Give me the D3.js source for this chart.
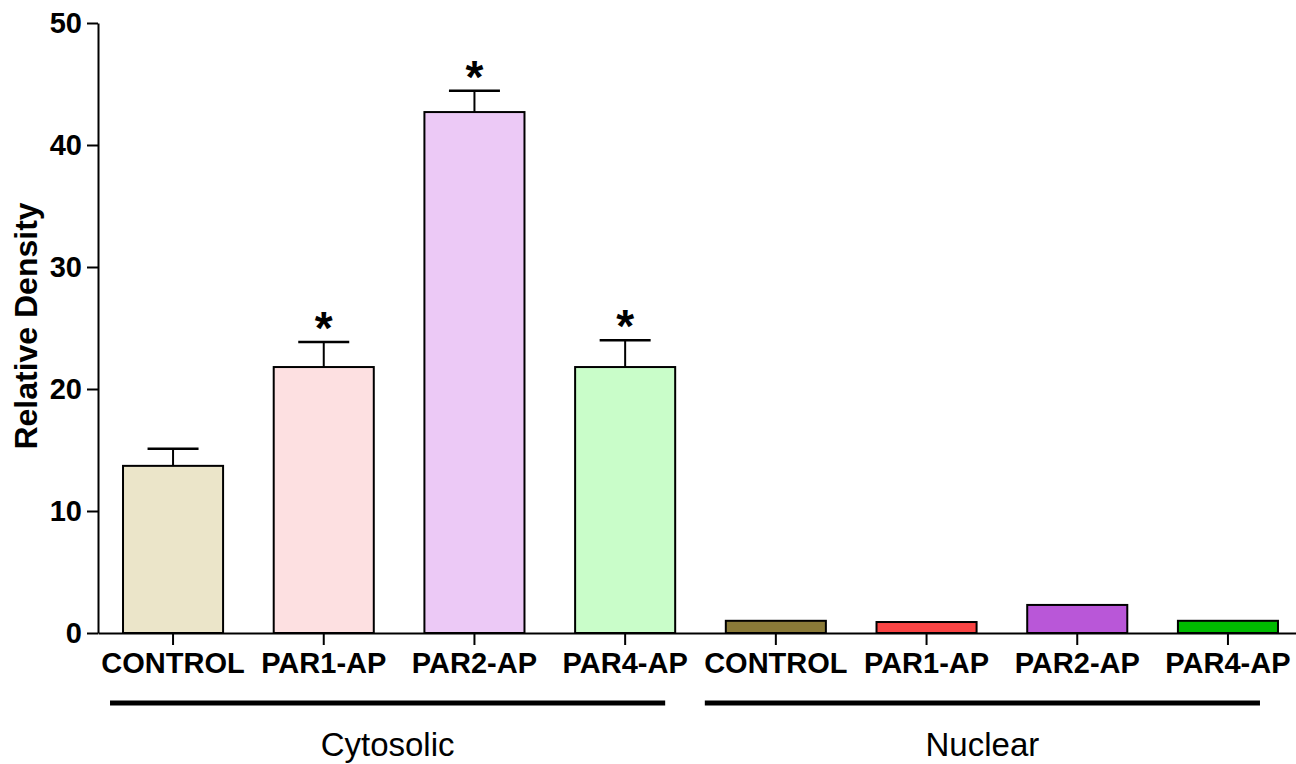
<!DOCTYPE html>
<html>
<head>
<meta charset="utf-8">
<script src="https://cdn.jsdelivr.net/npm/d3@7"></script>
<style>
  body { margin: 0; background: #fff; }
  text { font-family: "Liberation Sans", Arial, sans-serif; }
</style>
</head>
<body>
<div id="container"></div>
<script>
// values
let labels = ["CONTROL", "PAR1-AP", "PAR2-AP", "PAR4-AP", "CONTROL", "PAR1-AP", "PAR2-AP", "PAR4-AP"];
let groups = ["Cytosolic", "Cytosolic", "Cytosolic", "Cytosolic", "Nuclear", "Nuclear", "Nuclear", "Nuclear"];
let means = [13.7, 21.8, 42.7, 21.8, 1.0, 0.9, 2.3, 1.0];
let errors = [1.4, 2.05, 1.75, 2.2, 0, 0, 0, 0];
let stars = [false, true, true, true, false, false, false, false];
let colors = ["#ebe5c9", "#fde0e1", "#ecc9f6", "#c9fdc9", "#8a7a38", "#f94444", "#b957d8", "#00bc00"];
let yTicks = [0, 10, 20, 30, 40, 50];
let groupNames = ["Cytosolic", "Nuclear"];

let width = 1296, height = 764;
let ids = labels.map((d, i) => i);

let svg = d3.select("#container").append("svg")
  .attr("width", width)
  .attr("height", height);

let xScale = d3.scaleBand()
  .domain(ids)
  .range([98, 1303])
  .paddingInner(0.336)
  .paddingOuter(0.166);

let yScale = d3.scaleLinear().domain([0, 50]).range([633, 23]);

// y axis
let yAxis = d3.axisLeft(yScale)
  .tickValues(yTicks)
  .tickSize(11)
  .tickSizeOuter(0)
  .tickPadding(5);

let yAxisG = svg.append("g")
  .attr("transform", "translate(98,0)")
  .call(yAxis);
yAxisG.selectAll("path, line").attr("stroke", "#000").attr("stroke-width", 2);
yAxisG.selectAll("text")
  .attr("fill", "#000")
  .style("font-size", "29px")
  .style("font-weight", "bold");

// bars
svg.append("g")
  .selectAll("rect")
  .data(ids)
  .enter()
  .append("rect")
  .attr("x", (i) => xScale(i))
  .attr("y", (i) => yScale(means[i]))
  .attr("width", xScale.bandwidth())
  .attr("height", (i) => yScale(0) - yScale(means[i]))
  .attr("fill", (i) => colors[i])
  .attr("stroke", "#000")
  .attr("stroke-width", 2);

// error bars (upper only)
let errIds = ids.filter((i) => errors[i] > 0);
let errG = svg.append("g");
errG.selectAll("line.stem")
  .data(errIds)
  .enter()
  .append("line")
  .attr("class", "stem")
  .attr("x1", (i) => xScale(i) + xScale.bandwidth() / 2)
  .attr("x2", (i) => xScale(i) + xScale.bandwidth() / 2)
  .attr("y1", (i) => yScale(means[i]))
  .attr("y2", (i) => yScale(means[i] + errors[i]))
  .attr("stroke", "#000")
  .attr("stroke-width", 2);
errG.selectAll("line.cap")
  .data(errIds)
  .enter()
  .append("line")
  .attr("class", "cap")
  .attr("x1", (i) => xScale(i) + xScale.bandwidth() / 2 - 25.5)
  .attr("x2", (i) => xScale(i) + xScale.bandwidth() / 2 + 25.5)
  .attr("y1", (i) => yScale(means[i] + errors[i]))
  .attr("y2", (i) => yScale(means[i] + errors[i]))
  .attr("stroke", "#000")
  .attr("stroke-width", 2.5);

// significance stars
svg.append("g")
  .selectAll("text")
  .data(ids.filter((i) => stars[i]))
  .enter()
  .append("text")
  .attr("x", (i) => xScale(i) + xScale.bandwidth() / 2)
  .attr("y", (i) => yScale(means[i] + errors[i]) + 2)
  .attr("text-anchor", "middle")
  .style("font-size", "46px")
  .style("font-weight", "bold")
  .text("*");

// x axis
let xAxis = d3.axisBottom(xScale)
  .tickFormat((i) => labels[i])
  .tickSize(12)
  .tickSizeOuter(0)
  .tickPadding(7);

let xAxisG = svg.append("g")
  .attr("transform", "translate(0,633)")
  .call(xAxis);
xAxisG.selectAll("path, line").attr("stroke", "#000").attr("stroke-width", 2);
xAxisG.selectAll("text")
  .attr("fill", "#000")
  .style("font-size", "29px")
  .style("font-weight", "bold");

// group underlines and names
let lineShift = { Cytosolic: 12, Nuclear: 20 };
let groupG = svg.append("g");
groupNames.forEach(function (g) {
  let members = ids.filter((i) => groups[i] === g);
  let first = members[0];
  let last = members[members.length - 1];
  let x1 = xScale(first) - 1 - lineShift[g];
  let x2 = xScale(last) + xScale.bandwidth() + 2 - lineShift[g];
  groupG.append("line")
    .attr("x1", x1)
    .attr("x2", x2)
    .attr("y1", 703)
    .attr("y2", 703)
    .attr("stroke", "#000")
    .attr("stroke-width", 5);
  groupG.append("text")
    .attr("x", (x1 + x2) / 2)
    .attr("y", 756)
    .attr("text-anchor", "middle")
    .style("font-size", "33px")
    .text(g);
});

// y label
svg.append("text")
  .attr("transform", "translate(37,326) rotate(-90)")
  .attr("text-anchor", "middle")
  .style("font-size", "32px")
  .style("font-weight", "bold")
  .text("Relative Density");
</script>
</body>
</html>
